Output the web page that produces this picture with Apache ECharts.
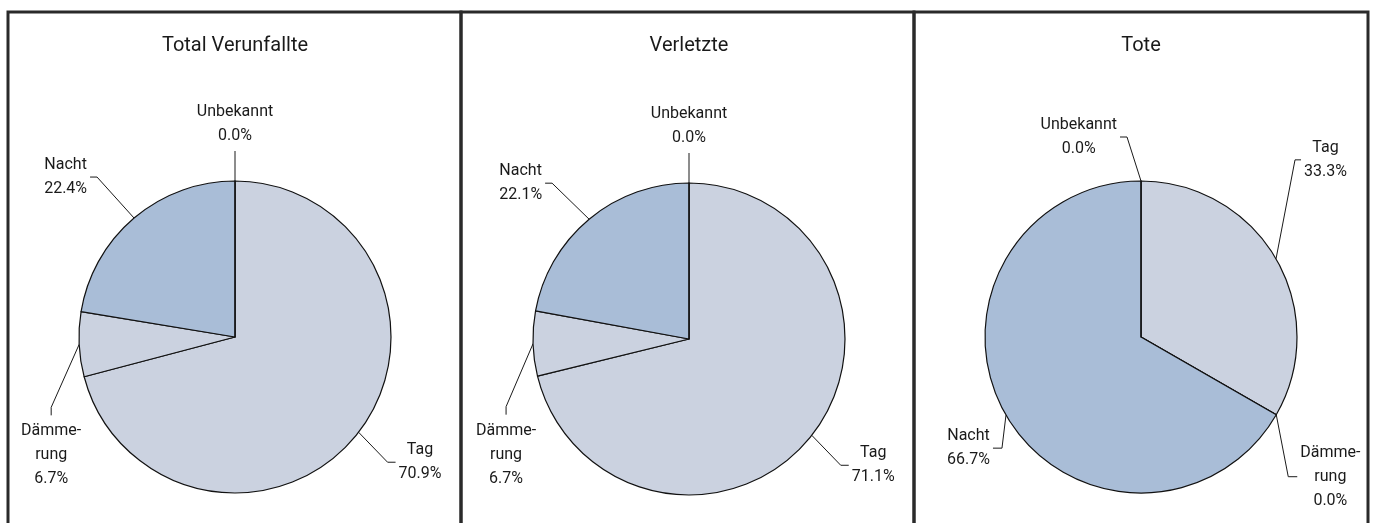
<!DOCTYPE html>
<html>
<head>
<meta charset="utf-8">
<script src="https://cdn.jsdelivr.net/npm/echarts@6/dist/echarts.min.js"></script>
<style>
  html, body { margin: 0; padding: 0; background: #fff; }
  #main { width: 1375px; height: 523px; }
</style>
</head>
<body>
<div id="main"></div>
<script>
// data
var titles = ['Total Verunfallte', 'Verletzte', 'Tote'];
var categories = ['Tag', 'Dämme-\nrung', 'Nacht', 'Unbekannt'];
var totalValues = [70.9, 6.7, 22.4, 0.0];
var injuredValues = [71.1, 6.7, 22.1, 0.0];
var deadValues = [33.3, 0.0, 66.7, 0.0];
var allValues = [totalValues, injuredValues, deadValues];

var colors = ['#cbd2e0', '#cbd2e0', '#a9bdd7', '#cbd2e0'];
var FONT = 'Roboto, "Liberation Sans", sans-serif';
var centers = [[235, 337], [689, 339], [1141, 337]];
var panelX = [8, 461, 914, 1368];

// leader line shape per label: elbow offset from the slice edge, then a short end segment
var leaders = [
    [{ d: [29, 30], dir: 'right', len: 8 }, { d: [-28, 63], dir: 'down', len: 8 },
     { d: [-37, -41], dir: 'left', len: 7 }, { d: [0, -22], dir: 'up', len: 8 }],
    [{ d: [29, 30], dir: 'right', len: 8 }, { d: [-27, 63], dir: 'down', len: 8 },
     { d: [-37, -36], dir: 'left', len: 7 }, { d: [0, -22], dir: 'up', len: 8 }],
    [{ d: [19, -99], dir: 'right', len: 6 }, { d: [12, 62], dir: 'right', len: 9 },
     { d: [-4, 33], dir: 'left', len: 9 }, { d: [-14, -44], dir: 'left', len: 7 }]
];

var myChart = echarts.init(document.getElementById('main'));

function labelText(p) {
    var lines = p.name.split('\n');
    lines.push(p.value.toFixed(1) + '%');
    return lines.map(function (s) { return '{c|' + s + '}'; }).join('\n');
}

function layoutLabel(params) {
    var L = leaders[params.seriesIndex][params.dataIndex];
    var p0 = params.labelLinePoints[0];
    var p1 = [p0[0] + L.d[0], p0[1] + L.d[1]];
    var p2, res;
    if (L.dir === 'right') {
        p2 = [p1[0] + L.len, p1[1]];
        res = { x: p2[0] + 3, y: p2[1], align: 'left', verticalAlign: 'middle' };
    } else if (L.dir === 'left') {
        p2 = [p1[0] - L.len, p1[1]];
        res = { x: p2[0] - 3, y: p2[1], align: 'right', verticalAlign: 'middle' };
    } else if (L.dir === 'up') {
        p2 = [p1[0], p1[1] - L.len];
        res = { x: p2[0], y: p2[1] - 3, align: 'center', verticalAlign: 'bottom' };
    } else {
        p2 = [p1[0], p1[1] + L.len];
        res = { x: p2[0], y: p2[1] + 4, align: 'center', verticalAlign: 'top' };
    }
    res.labelLinePoints = [p0, p1, p2];
    return res;
}

var series = allValues.map(function (vals, k) {
    return {
        type: 'pie',
        center: centers[k],
        radius: 156,
        startAngle: 90,
        clockwise: true,
        animation: false,
        avoidLabelOverlap: false,
        itemStyle: { borderColor: '#111', borderWidth: 1.2 },
        label: {
            show: true,
            formatter: labelText,
            rich: {
                c: { align: 'center', fontFamily: FONT, fontSize: 16, lineHeight: 24, color: '#1a1a1a' }
            }
        },
        labelLine: { length: 28, length2: 8, lineStyle: { color: '#1a1a1a', width: 1 } },
        labelLayout: layoutLabel,
        emphasis: { disabled: true },
        data: categories.map(function (c, i) {
            return { name: c, value: vals[i], itemStyle: { color: colors[i] } };
        })
    };
});

var graphics = [];
for (var k = 0; k < 3; k++) {
    graphics.push({
        type: 'rect',
        shape: { x: panelX[k], y: 12, width: panelX[k + 1] - panelX[k], height: 530 },
        style: { fill: null, stroke: '#2a2a2a', lineWidth: 3 },
        silent: true
    });
}

var option = {
    backgroundColor: '#fff',
    title: titles.map(function (t, k) {
        return {
            text: t, left: centers[k][0] - 5, top: 31, textAlign: 'center',
            textStyle: { fontFamily: FONT, fontSize: 20, fontWeight: 'normal', color: '#1a1a1a' }
        };
    }),
    graphic: graphics,
    series: series
};
myChart.setOption(option);
</script>
</body>
</html>
